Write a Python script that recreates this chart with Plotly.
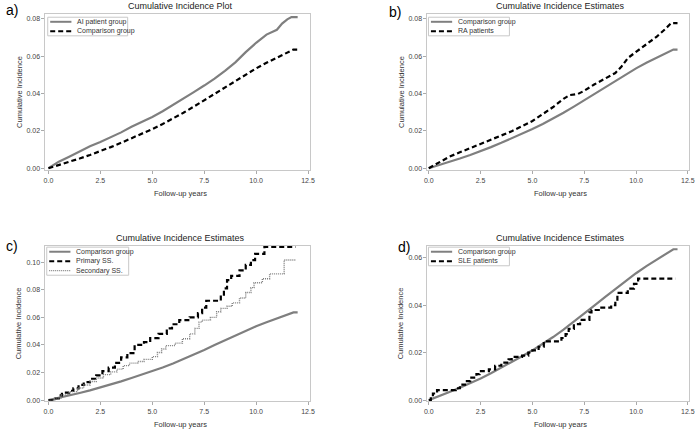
import plotly.graph_objects as go

# ---------------- data ----------------
t_comp = [0, 0.5, 1, 1.5, 2, 2.5, 3, 3.5, 4, 4.5, 5, 5.5, 6, 6.5, 7, 7.5, 8, 8.5, 9, 9.5, 10, 10.5, 11, 11.5, 11.8, 12]
ci_comp = [0, 0.0016, 0.0034, 0.0052, 0.0071, 0.0091, 0.0113, 0.0136, 0.016, 0.0185, 0.0210, 0.0237, 0.0266,
           0.0297, 0.0330, 0.0364, 0.0399, 0.0434, 0.0468, 0.0503, 0.0535, 0.0565, 0.0592, 0.0618, 0.0636, 0.0636]

t_ai = [0, 0.5, 1, 1.5, 2, 2.5, 3, 3.5, 4, 4.5, 5, 5.5, 6, 6.5, 7, 7.5, 8, 8.5, 9, 9.5, 10, 10.5, 11, 11.25, 11.5, 11.7, 12]
ci_ai = [0, 0.0035, 0.0062, 0.0092, 0.0118, 0.0140, 0.0165, 0.0192, 0.0222, 0.0248, 0.0275, 0.0305, 0.0338,
         0.0372, 0.0408, 0.0443, 0.0480, 0.0522, 0.0567, 0.0622, 0.0672, 0.0716, 0.0742, 0.0775, 0.0798, 0.0810, 0.0810]

t_ra = [0, 0.5, 1, 1.5, 2, 2.5, 3, 3.5, 4, 4.5, 5, 5.5, 6, 6.5, 6.8, 7.2, 7.5, 8, 8.5, 9, 9.3, 9.6, 9.9, 10.2, 10.6, 11, 11.4, 11.7, 12]
ci_ra = [0, 0.0033, 0.0062, 0.0085, 0.0108, 0.0128, 0.0150, 0.0175, 0.0198, 0.0225, 0.0253, 0.0290, 0.0328, 0.0372,
         0.0392, 0.0398, 0.0415, 0.0450, 0.0482, 0.0510, 0.0545, 0.0590, 0.0615, 0.0640, 0.0675, 0.0705, 0.0745, 0.0778, 0.0778]

t_pss = [0, 0.25, 0.5, 0.65, 1.0, 1.2, 1.45, 1.7, 2.0, 2.3, 2.6, 2.9, 3.2, 3.5, 3.8, 4.15, 4.6, 4.9, 5.3, 5.7, 5.95,
         6.3, 6.8, 7.2, 7.4, 7.6, 8.3, 8.45, 8.6, 8.8, 9.2, 9.5, 9.75, 9.95, 10.4, 11.9]
ci_pss = [0, 0.0012, 0.0035, 0.0055, 0.0068, 0.0085, 0.011, 0.013, 0.0155, 0.018, 0.021, 0.0235, 0.027, 0.031, 0.034,
          0.040, 0.042, 0.045, 0.048, 0.052, 0.055, 0.058, 0.060, 0.063, 0.067, 0.072, 0.075, 0.081, 0.087, 0.090,
          0.094, 0.098, 0.1015, 0.106, 0.111, 0.111]

t_sss = [0, 0.3, 0.6, 1.0, 1.4, 1.7, 2.0, 2.3, 2.65, 3.0, 3.3, 3.6, 3.9, 4.3, 4.6, 5.0, 5.25, 5.45, 5.65, 6.1, 6.45,
         6.8, 7.05, 7.25, 7.4, 7.8, 8.1, 8.3, 8.6, 8.85, 9.2, 9.5, 9.75, 9.9, 10.3, 10.65, 11.35, 11.9]
ci_sss = [0, 0.0015, 0.0038, 0.0062, 0.0088, 0.011, 0.0135, 0.016, 0.0185, 0.0205, 0.0225, 0.025, 0.0268, 0.028,
          0.0295, 0.0315, 0.0345, 0.037, 0.0395, 0.0413, 0.0445, 0.048, 0.052, 0.0565, 0.058, 0.060, 0.064, 0.0665,
          0.068, 0.0705, 0.074, 0.078, 0.0815, 0.085, 0.088, 0.0915, 0.1015, 0.1015]

t_sle = [0, 0.1, 0.2, 0.4, 1.3, 1.5, 1.75, 2.0, 2.3, 2.45, 2.9, 3.2, 3.5, 3.85, 4.0, 4.5, 4.8, 5.0, 5.3, 5.55, 5.7,
         6.4, 6.6, 6.75, 7.0, 7.3, 7.75, 7.85, 8.2, 8.8, 9.0, 9.1, 9.6, 9.9, 10.1, 11.9]
ci_sle = [0, 0.0015, 0.0028, 0.0042, 0.0050, 0.0065, 0.0080, 0.0095, 0.0110, 0.0122, 0.0130, 0.0145, 0.0158, 0.0172,
          0.0182, 0.0188, 0.0200, 0.0210, 0.0225, 0.0240, 0.0248, 0.0262, 0.0278, 0.0300, 0.0320, 0.0338, 0.0370,
          0.0380, 0.0390, 0.0400, 0.0418, 0.0452, 0.0470, 0.0490, 0.0512, 0.0512]

panel_titles = ["Cumulative Incidence Plot", "Cumulative Incidence Estimates",
                "Cumulative Incidence Estimates", "Cumulative Incidence Estimates"]
panel_letters = ["a)", "b)", "c)", "d)"]
x_title = "Follow-up years"
y_title = "Cumulative Incidence"

# ---------------- layout helpers ----------------
W, H = 699, 433
GRAY = "#7f7f7f"
FONT = "Liberation Sans, Arial, sans-serif"

def fx(px):
    return px / W

def fy(py):
    return 1 - py / H

solid = dict(color=GRAY, width=2.2)
dashed = dict(color="black", width=2.2, dash="5px,3px")
dotted = dict(color=GRAY, width=1.4, dash="1px,1px")

# pixel frames: (left, right, top, bottom)
frames = [(42, 310, 14, 171), (429, 693.5, 14, 171), (42, 310, 246.7, 403.3), (429, 693.5, 246.7, 403.3)]
xranges = [[-0.143, 12.595], [-0.062, 12.5335], [-0.143, 12.595], [-0.062, 12.5335]]
yranges = [[-0.00107, 0.08267], [-0.00107, 0.08267], [-0.00094, 0.112], [-0.00055, 0.06516]]

panels = [
    [(t_ai, ci_ai, "AI patient group", solid, "linear"), (t_comp, ci_comp, "Comparison group", dashed, "linear")],
    [(t_comp, ci_comp, "Comparison group", solid, "linear"), (t_ra, ci_ra, "RA patients", dashed, "linear")],
    [(t_comp, ci_comp, "Comparison group", solid, "linear"), (t_pss, ci_pss, "Primary SS.", dashed, "hv"),
     (t_sss, ci_sss, "Secondary SS.", dotted, "hv")],
    [(t_comp, ci_comp, "Comparison group", solid, "linear"), (t_sle, ci_sle, "SLE patients", dashed, "hv")],
]
# legend box (left px, top px, width px)
legend_boxes = [(44.3, 17.3, 81), (430, 17.3, 82), (43.3, 248.3, 83), (430, 248.3, 82)]

fig = go.Figure()
annotations = []
shapes = []

for i, traces in enumerate(panels):
    sfx = "" if i == 0 else str(i + 1)
    for x, y, name, line, shape in traces:
        fig.add_trace(go.Scatter(x=x, y=y, name=name, mode="lines", line=dict(**line, shape=shape),
                                 xaxis="x" + sfx, yaxis="y" + sfx, showlegend=False, hoverinfo="skip"))
    # manual legend
    bl, bt, bw = legend_boxes[i]
    n = len(traces)
    row0, step = 4.6, 9.5
    bh = row0 + step * (n - 1) + 4.6
    shapes.append(dict(type="rect", xref="paper", yref="paper", x0=fx(bl), x1=fx(bl + bw), y0=fy(bt + bh), y1=fy(bt),
                       line=dict(color="#c8c8c8", width=1), fillcolor="white", layer="above"))
    for k, (x, y, name, line, shape) in enumerate(traces):
        yy = bt + row0 + step * k
        shapes.append(dict(type="line", xref="paper", yref="paper", x0=fx(bl + 2.5), x1=fx(bl + 24),
                           y0=fy(yy), y1=fy(yy), line=dict(color=line["color"], width=line["width"] * 0.9,
                                                              dash=line.get("dash", "solid")), layer="above"))
        annotations.append(dict(text=name, x=fx(bl + 28), y=fy(yy), xref="paper", yref="paper", showarrow=False,
                                xanchor="left", yanchor="middle", font=dict(size=7, color="#333")))

layout = dict(width=W, height=H, margin=dict(l=0, r=0, t=0, b=0),
              paper_bgcolor="white", plot_bgcolor="white", showlegend=False,
              font=dict(family=FONT, size=7, color="#333"))

for i, ((l, r, t, b), xr, yr) in enumerate(zip(frames, xranges, yranges)):
    sfx = "" if i == 0 else str(i + 1)
    axstyle = dict(showline=True, mirror=True, linecolor="#c8c8c8", linewidth=1,
                   ticks="outside", ticklen=3, tickcolor="#aaaaaa", showgrid=False, zeroline=False,
                   tickfont=dict(size=7, color="#444"))
    layout["xaxis" + sfx] = dict(domain=[fx(l), fx(r)], range=xr, anchor="y" + sfx,
                                 tick0=0, dtick=2.5, tickformat=".1f", **axstyle)
    layout["yaxis" + sfx] = dict(domain=[fy(b), fy(t)], range=yr, anchor="x" + sfx,
                                 tick0=0, dtick=0.02, tickformat=".2f", **axstyle)
    cx = (l + r) / 2
    annotations.append(dict(text=panel_titles[i], x=fx(cx + 3), y=fy(t - 8), xref="paper", yref="paper",
                            showarrow=False, font=dict(size=9, color="#222"),
                            xanchor="center", yanchor="middle"))
    annotations.append(dict(text=x_title, x=fx(cx + 3), y=fy(b + 23), xref="paper",
                            yref="paper", showarrow=False, font=dict(size=7.5, color="#333"),
                            xanchor="center", yanchor="middle"))
    annotations.append(dict(text=y_title, x=fx(l - 27), y=fy((t + b) / 2),
                            xref="paper", yref="paper", showarrow=False, textangle=-90,
                            font=dict(size=7.5, color="#333"), xanchor="center", yanchor="middle"))

letter_pos = [(0, 10), (388, 12), (0, 247), (397, 248)]
for (lx, ly), txt in zip(letter_pos, panel_letters):
    annotations.append(dict(text=txt, x=fx(lx), y=fy(ly), xref="paper", yref="paper",
                            showarrow=False, font=dict(size=14, color="black", family=FONT),
                            xanchor="left", yanchor="middle"))

layout["annotations"] = annotations
layout["shapes"] = shapes
fig.update_layout(**layout)
fig.write_html("out.html", config={"displayModeBar": False, "staticPlot": True},
               post_script="document.body.style.margin='0';document.body.style.overflow='hidden';")
